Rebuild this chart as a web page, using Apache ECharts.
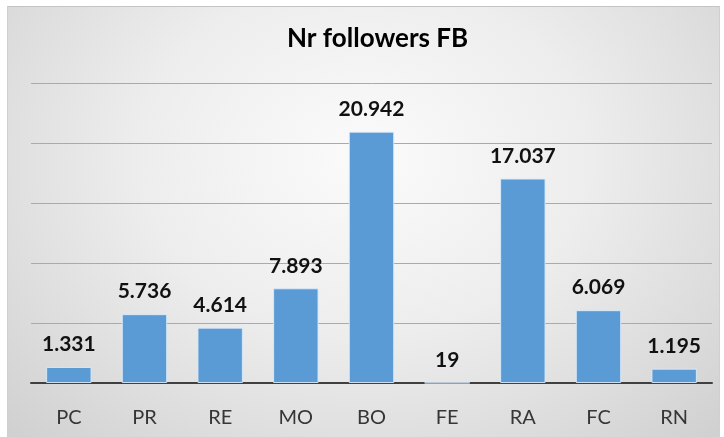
<!DOCTYPE html>
<html>

<head>
    <meta charset="utf-8">
    <script src="https://cdn.jsdelivr.net/npm/echarts@6/dist/echarts.min.js"></script>
    <style>
        html, body { margin: 0; padding: 0; background: #fff; }
        #frame {
            position: absolute; left: 7px; top: 6px; width: 713px; height: 431px;
            box-sizing: border-box; border-top: 1px solid #c4c4c4; border-left: 1px solid #d0d0d0; border-right: 1px solid #d0d0d0;
            background: radial-gradient(ellipse at 50% 35%, #fbfbfb 0%, #ededed 45%, #d0d0d0 100%);
        }
        #main { position: absolute; left: 0; top: 0; width: 724px; height: 437px; }
    </style>
</head>

<body>
    <div id="frame"></div>
    <div id="main"></div>
    <script type="text/javascript">
        var categories = ['PC', 'PR', 'RE', 'MO', 'BO', 'FE', 'RA', 'FC', 'RN'];
        var followers = [1331, 5736, 4614, 7893, 20942, 19, 17037, 6069, 1195];
        var yTicks = [0, 5000, 10000, 15000, 20000, 25000];

        var myChart = echarts.init(document.getElementById('main'));

        // 1.331 style thousands separator
        function dotThousands(num) {
            return String(num).replace(/\B(?=(\d{3})+(?!\d))/g, '.');
        }

        var option = {
            backgroundColor: 'transparent',
            animation: false,
            title: {
                text: 'Nr followers FB',
                left: 282,
                top: 21,
                textStyle: {
                    fontFamily: 'Lato',
                    fontSize: 26,
                    fontWeight: 'bold',
                    color: '#000'
                }
            },
            grid: {
                left: 31,
                right: 12,
                top: 83,
                bottom: 54
            },
            xAxis: {
                type: 'category',
                data: categories,
                axisTick: { show: false },
                axisLine: { lineStyle: { color: '#404040', width: 2 } },
                axisLabel: {
                    margin: 25,
                    fontFamily: 'Lato',
                    fontSize: 20,
                    color: '#363636'
                }
            },
            yAxis: {
                type: 'value',
                min: yTicks[0],
                max: yTicks[yTicks.length - 1],
                interval: yTicks[1] - yTicks[0],
                axisLabel: { show: false },
                axisLine: { show: false },
                axisTick: { show: false },
                splitLine: { lineStyle: { color: '#aaaaaa', width: 1 } }
            },
            series: [{
                name: 'followers',
                type: 'bar',
                data: followers,
                barWidth: '60%',
                itemStyle: {
                    color: '#5b9bd5',
                    borderColor: 'rgba(220,235,250,0.9)',
                    borderWidth: 1
                },
                label: {
                    show: true,
                    position: 'top',
                    distance: 12,
                    fontFamily: 'Lato',
                    fontSize: 21,
                    fontWeight: 'bold',
                    color: '#111',
                    formatter: function (p) {
                        return dotThousands(p.value);
                    }
                }
            }]
        };

        myChart.setOption(option);
    </script>
</body>

</html>
